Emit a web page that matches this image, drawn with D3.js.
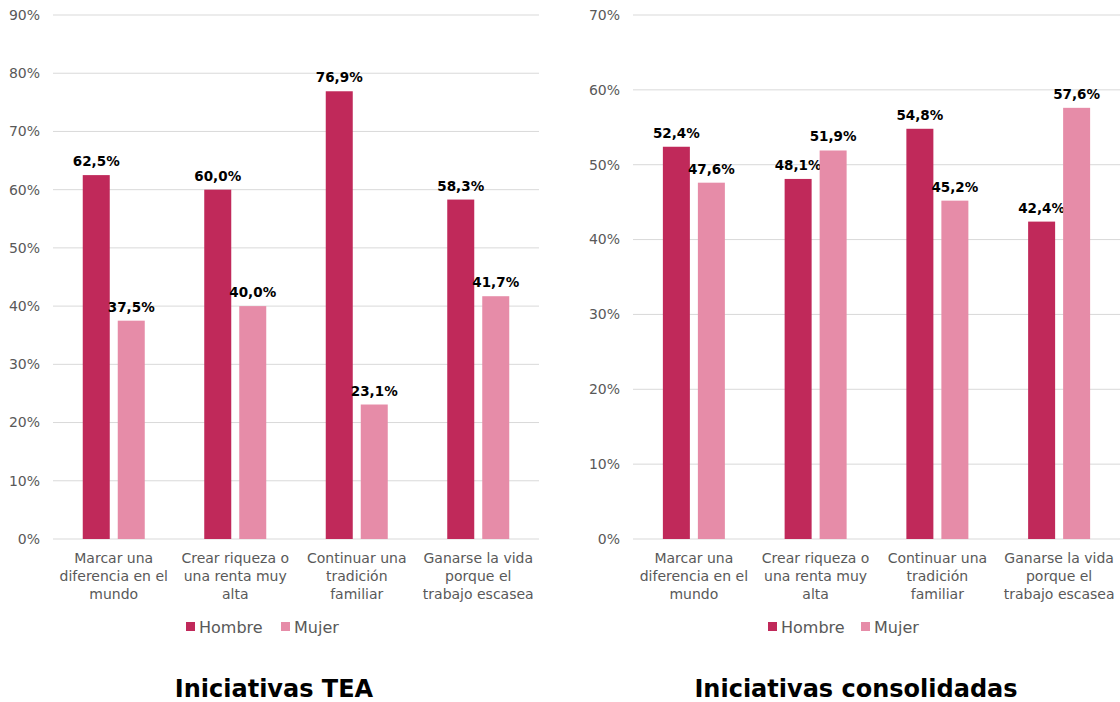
<!DOCTYPE html>
<html><head><meta charset="utf-8">
<script src="https://cdn.jsdelivr.net/npm/d3@7"></script>
<style>body{margin:0;background:#fff;}svg{display:block;font-family:"DejaVu Sans",sans-serif;}</style>
</head><body><svg id="c" width="1120" height="702"></svg>
<script>
const categories = [
  ["Marcar una","diferencia en el","mundo"],
  ["Crear riqueza o","una renta muy","alta"],
  ["Continuar una","tradición","familiar"],
  ["Ganarse la vida","porque el","trabajo escasea"]
];
const seriesNames = ["Hombre","Mujer"];
const teaHombre = [62.5, 60.0, 76.9, 58.3];
const teaMujer = [37.5, 40.0, 23.1, 41.7];
const consHombre = [52.4, 48.1, 54.8, 42.4];
const consMujer = [47.6, 51.9, 45.2, 57.6];
const teaTicks = [0,10,20,30,40,50,60,70,80,90];
const consTicks = [0,10,20,30,40,50,60,70];
const colors = ["#C0295A","#E68CA8"];

const svg = d3.select("#c");
const fmt = v => v.toFixed(1).replace(".", ",") + "%";

function panel(opts){
  const g = svg.append("g");
  const y = d3.scaleLinear().domain([0, opts.max]).range([539, 15]);
  const x = d3.scaleBand().domain(d3.range(4)).range([opts.x0, opts.x1]);
  g.selectAll(".grid").data(opts.ticks).enter().append("line")
    .attr("x1", opts.x0).attr("x2", opts.x1)
    .attr("y1", d=>y(d)).attr("y2", d=>y(d))
    .attr("stroke", "#d9d9d9").attr("stroke-width", 1);
  g.selectAll(".yl").data(opts.ticks).enter().append("text")
    .attr("x", opts.x0 - 13).attr("y", d=>y(d)).attr("dy","0.35em")
    .attr("text-anchor","end").attr("font-size",14).attr("fill","#595959")
    .text(d=>d+"%");
  const bw = 27, gap = 8;
  const data = [opts.h, opts.m];
  data.forEach((arr, si) => {
    arr.forEach((v, i) => {
      const cx = x(i) + x.bandwidth()/2;
      const bx = si === 0 ? cx - gap/2 - bw : cx + gap/2;
      g.append("rect").attr("x", bx).attr("y", y(v)).attr("width", bw)
        .attr("height", y(0) - y(v)).attr("fill", colors[si]);
      g.append("text").attr("x", bx + bw/2).attr("y", y(v) - 9)
        .attr("text-anchor","middle").attr("font-size",13.5).attr("font-weight","bold")
        .attr("fill","#000").text(fmt(v));
    });
  });
  categories.forEach((lines, i) => {
    const cx = x(i) + x.bandwidth()/2;
    const t = g.append("text").attr("x", cx).attr("text-anchor","middle")
      .attr("font-size",14).attr("fill","#595959");
    lines.forEach((l, k) => {
      t.append("tspan").attr("x", cx).attr("y", 563 + k*18).text(l);
    });
  });
  opts.legend.forEach((lx, si) => {
    g.append("rect").attr("x", lx).attr("y", 622).attr("width", 9).attr("height", 9).attr("fill", colors[si]);
    g.append("text").attr("x", lx + 13).attr("y", 627).attr("dy","0.35em")
      .attr("font-size",16).attr("fill","#595959").text(seriesNames[si]);
  });
  g.append("text").attr("x", opts.titleX).attr("y", 697).attr("text-anchor","middle")
    .attr("font-size",24).attr("font-weight","bold").attr("fill","#000").text(opts.title);
}

panel({x0:53, x1:539, max:90, ticks:teaTicks, h:teaHombre, m:teaMujer,
  legend:[186,281], title:"Iniciativas TEA", titleX:274});
panel({x0:633, x1:1120, max:70, ticks:consTicks, h:consHombre, m:consMujer,
  legend:[768,861], title:"Iniciativas consolidadas", titleX:856});
</script></body></html>
